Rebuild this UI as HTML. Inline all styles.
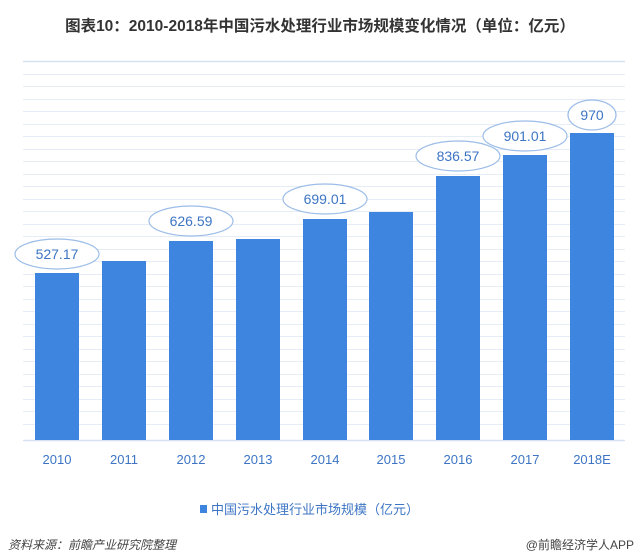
<!DOCTYPE html>
<html><head><meta charset="utf-8"><style>
body{margin:0;background:#fff;}
svg{display:block;font-family:"Liberation Sans","Noto Sans CJK SC",sans-serif;}
</style></head><body>
<svg width="640" height="556" viewBox="0 0 640 556">
<rect width="640" height="556" fill="#fff"/>
<text x="320" y="31" text-anchor="middle" font-size="15.5" font-weight="bold" fill="#333">图表10：2010-2018年中国污水处理行业市场规模变化情况（单位：亿元）</text>
<g stroke="#e6edf7" stroke-width="1">
<line x1="23" x2="625" y1="74.5" y2="74.5"/><line x1="23" x2="625" y1="86.5" y2="86.5"/><line x1="23" x2="625" y1="99.5" y2="99.5"/><line x1="23" x2="625" y1="111.5" y2="111.5"/><line x1="23" x2="625" y1="124.5" y2="124.5"/><line x1="23" x2="625" y1="136.5" y2="136.5"/><line x1="23" x2="625" y1="149.5" y2="149.5"/><line x1="23" x2="625" y1="161.5" y2="161.5"/><line x1="23" x2="625" y1="174.5" y2="174.5"/><line x1="23" x2="625" y1="186.5" y2="186.5"/><line x1="23" x2="625" y1="199.5" y2="199.5"/><line x1="23" x2="625" y1="211.5" y2="211.5"/><line x1="23" x2="625" y1="224.5" y2="224.5"/><line x1="23" x2="625" y1="236.5" y2="236.5"/><line x1="23" x2="625" y1="249.5" y2="249.5"/><line x1="23" x2="625" y1="261.5" y2="261.5"/><line x1="23" x2="625" y1="274.5" y2="274.5"/><line x1="23" x2="625" y1="286.5" y2="286.5"/><line x1="23" x2="625" y1="299.5" y2="299.5"/><line x1="23" x2="625" y1="311.5" y2="311.5"/><line x1="23" x2="625" y1="324.5" y2="324.5"/><line x1="23" x2="625" y1="336.5" y2="336.5"/><line x1="23" x2="625" y1="349.5" y2="349.5"/><line x1="23" x2="625" y1="361.5" y2="361.5"/><line x1="23" x2="625" y1="374.5" y2="374.5"/><line x1="23" x2="625" y1="386.5" y2="386.5"/><line x1="23" x2="625" y1="399.5" y2="399.5"/><line x1="23" x2="625" y1="411.5" y2="411.5"/><line x1="23" x2="625" y1="424.5" y2="424.5"/>
</g>
<line x1="23" x2="625" y1="61.5" y2="61.5" stroke="#d6e1f2" stroke-width="1.5"/>
<line x1="23" x2="625" y1="440.5" y2="440.5" stroke="#d6e1f2" stroke-width="1.5"/>
<g fill="#3d85df">
<rect x="35" y="273" width="44" height="167"/>
<rect x="102" y="261" width="44" height="179"/>
<rect x="169" y="241" width="44" height="199"/>
<rect x="236" y="239" width="44" height="201"/>
<rect x="303" y="219" width="44" height="221"/>
<rect x="369" y="212" width="44" height="228"/>
<rect x="436" y="176" width="44" height="264"/>
<rect x="503" y="155" width="44" height="285"/>
<rect x="570" y="133" width="44" height="307"/>
</g>
<g fill="#fff" stroke="#9cbde8" stroke-width="1.2">
<ellipse cx="57" cy="254" rx="42" ry="15"/>
<ellipse cx="191" cy="221" rx="42" ry="15"/>
<ellipse cx="325" cy="199" rx="42" ry="15"/>
<ellipse cx="458" cy="156" rx="42" ry="15"/>
<ellipse cx="525" cy="136" rx="42" ry="15"/>
<ellipse cx="592" cy="115" rx="24" ry="15"/>
</g>
<g font-size="14" fill="#3d75c4" text-anchor="middle">
<text x="57" y="259">527.17</text>
<text x="191" y="226">626.59</text>
<text x="325" y="204">699.01</text>
<text x="458" y="161">836.57</text>
<text x="525" y="141">901.01</text>
<text x="592" y="120">970</text>
</g>
<g font-size="13" fill="#3d75c4" text-anchor="middle">
<text x="57" y="464">2010</text><text x="124" y="464">2011</text><text x="191" y="464">2012</text><text x="258" y="464">2013</text><text x="325" y="464">2014</text><text x="391" y="464">2015</text><text x="458" y="464">2016</text><text x="525" y="464">2017</text><text x="592" y="464">2018E</text>
</g>
<rect x="200" y="505" width="7" height="8" fill="#3d85df"/>
<text x="211" y="514" font-size="13" fill="#3d75c4">中国污水处理行业市场规模（亿元）</text>
<text x="8" y="549" font-size="12" font-style="italic" fill="#444">资料来源：前瞻产业研究院整理</text>
<text x="634" y="549" font-size="12" fill="#444" text-anchor="end">@前瞻经济学人APP</text>
</svg>
</body></html>
